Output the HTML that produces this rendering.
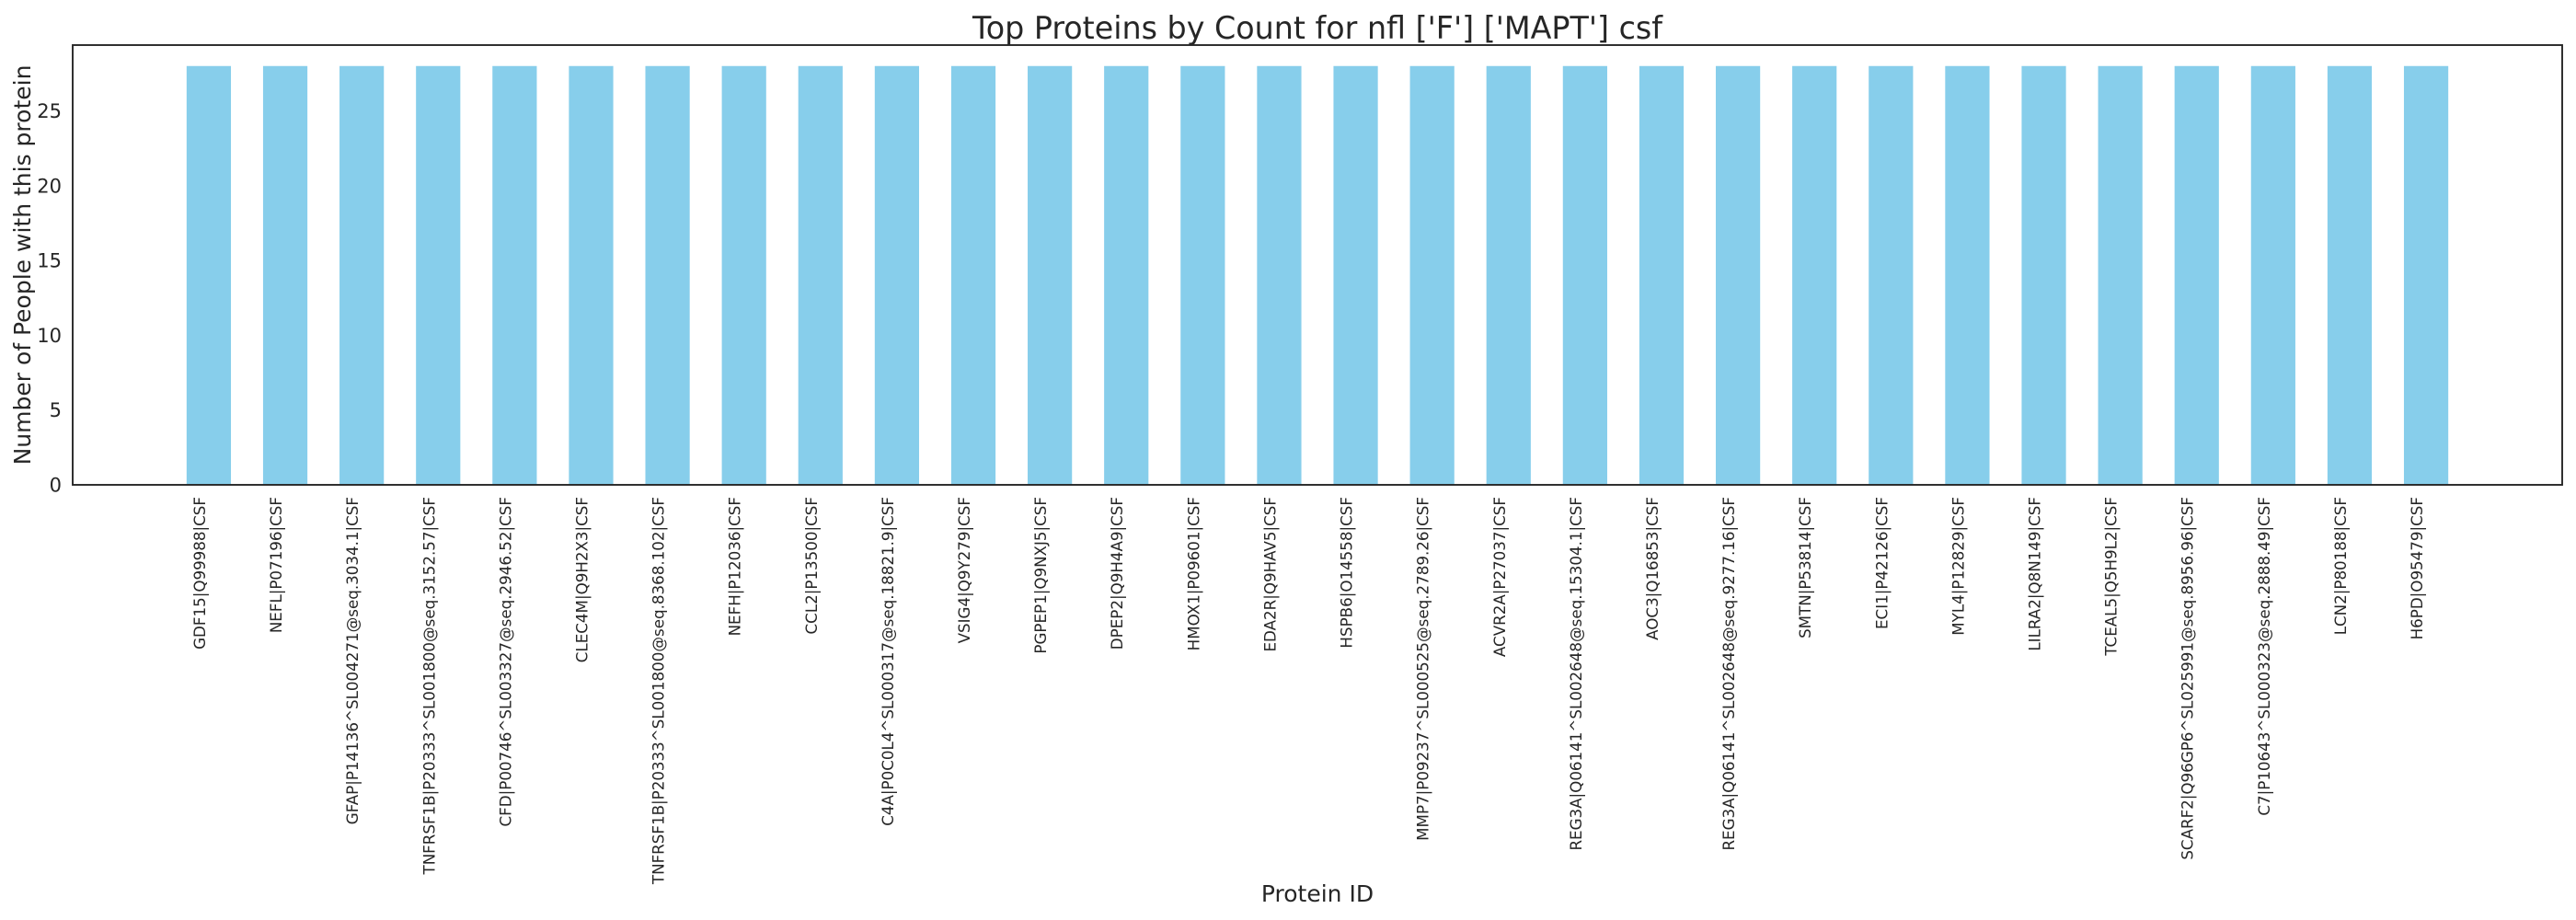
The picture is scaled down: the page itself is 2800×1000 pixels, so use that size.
<!DOCTYPE html>
<html><head><meta charset="utf-8"><style>
html,body{margin:0;padding:0;background:#fff;}
svg{display:block;font-family:"DejaVu Sans","Liberation Sans",sans-serif;}
</style></head><body>
<svg id="chart" width="2800" height="1000" viewBox="0 0 2800 1000" xmlns="http://www.w3.org/2000/svg">
<rect width="2800" height="1000" fill="#fff"/>
<text x="1432" y="42" text-anchor="middle" font-size="34" fill="#262626" textLength="750" lengthAdjust="spacingAndGlyphs">Top Proteins by Count for nfl ['F'] ['MAPT'] csf</text>
<g id="bars"></g>
<g id="yticks"></g>
<g id="xticks"></g>
<rect x="79" y="49" width="2706" height="478" fill="none" stroke="#262626" stroke-width="1.9"/>
<text transform="translate(33,288) rotate(-90)" text-anchor="middle" font-size="25" fill="#262626">Number of People with this protein</text>
<text x="1432" y="980" text-anchor="middle" font-size="25" fill="#262626">Protein ID</text>
</svg>
<script>
const categories = ["GDF15|Q99988|CSF","NEFL|P07196|CSF","GFAP|P14136^SL004271@seq.3034.1|CSF","TNFRSF1B|P20333^SL001800@seq.3152.57|CSF","CFD|P00746^SL003327@seq.2946.52|CSF","CLEC4M|Q9H2X3|CSF","TNFRSF1B|P20333^SL001800@seq.8368.102|CSF","NEFH|P12036|CSF","CCL2|P13500|CSF","C4A|P0C0L4^SL000317@seq.18821.9|CSF","VSIG4|Q9Y279|CSF","PGPEP1|Q9NXJ5|CSF","DPEP2|Q9H4A9|CSF","HMOX1|P09601|CSF","EDA2R|Q9HAV5|CSF","HSPB6|O14558|CSF","MMP7|P09237^SL000525@seq.2789.26|CSF","ACVR2A|P27037|CSF","REG3A|Q06141^SL002648@seq.15304.1|CSF","AOC3|Q16853|CSF","REG3A|Q06141^SL002648@seq.9277.16|CSF","SMTN|P53814|CSF","ECI1|P42126|CSF","MYL4|P12829|CSF","LILRA2|Q8N149|CSF","TCEAL5|Q5H9L2|CSF","SCARF2|Q96GP6^SL025991@seq.8956.96|CSF","C7|P10643^SL000323@seq.2888.49|CSF","LCN2|P80188|CSF","H6PD|O95479|CSF"];
const counts = [28,28,28,28,28,28,28,28,28,28,28,28,28,28,28,28,28,28,28,28,28,28,28,28,28,28,28,28,28,28];
const yTicks = [0,5,10,15,20,25];

const NS = "http://www.w3.org/2000/svg";
const plotL = 79, plotR = 2785, plotT = 49, plotB = 527;
const yMax = Math.max(...counts) * 1.05;
const xMin = -1.78, xMax = categories.length - 1 + 1.78;
function xScale(i){ return plotL + (i - xMin) / (xMax - xMin) * (plotR - plotL); }
function yScale(v){ return plotB - v / yMax * (plotB - plotT); }
const barW = (xScale(1) - xScale(0)) * 0.58;

const bars = document.getElementById('bars');
counts.forEach((v, i) => {
  const r = document.createElementNS(NS, 'rect');
  r.setAttribute('x', xScale(i) - barW / 2);
  r.setAttribute('y', yScale(v));
  r.setAttribute('width', barW);
  r.setAttribute('height', yScale(0) - yScale(v));
  r.setAttribute('fill', '#87CEEB');
  
  
  bars.appendChild(r);
});

const yt = document.getElementById('yticks');
yTicks.forEach(t => {
  const tx = document.createElementNS(NS, 'text');
  tx.setAttribute('x', plotL - 12);
  tx.setAttribute('y', yScale(t) + 7.5);
  tx.setAttribute('text-anchor', 'end');
  tx.setAttribute('font-size', '21');
  tx.setAttribute('fill', '#262626');
  tx.textContent = t;
  
  
  yt.appendChild(tx);
});

const xt = document.getElementById('xticks');
categories.forEach((c, i) => {
  const tx = document.createElementNS(NS, 'text');
  const x = xScale(i) - 4, y = 540;
  tx.setAttribute('transform', 'translate(' + x + ',' + y + ') rotate(-90)');
  tx.setAttribute('text-anchor', 'end');
  tx.setAttribute('font-size', '16.7');
  tx.setAttribute('fill', '#262626');
  tx.textContent = c;
  
  
  xt.appendChild(tx);
});
</script>
</body></html>
